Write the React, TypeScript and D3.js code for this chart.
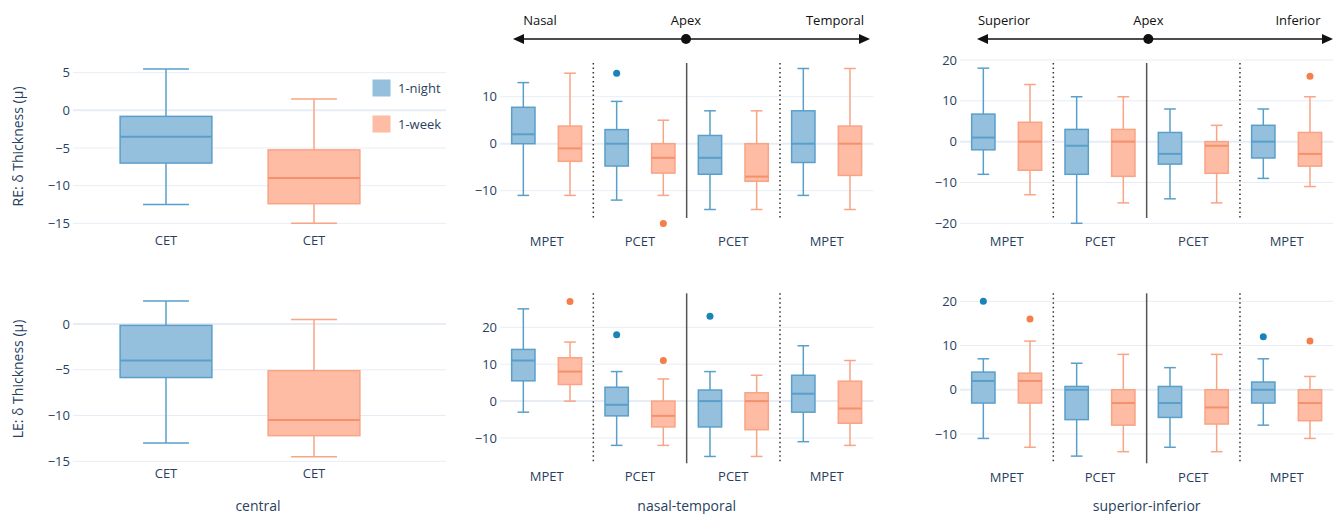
import React, { useEffect, useRef } from "react";
import * as d3 from "d3";

const W = 1335;
const H = 514;

// box stats: [lower whisker, q1, median, q3, upper whisker]
const centralReNight = [-12.5, -7, -3.5, -0.8, 5.5];
const centralReWeek = [-15, -12.4, -9, -5.25, 1.5];
const centralLeNight = [-13, -5.85, -4, -0.15, 2.5];
const centralLeWeek = [-14.5, -12.2, -10.5, -5.1, 0.5];

const zoneLabels = ["MPET", "PCET", "PCET", "MPET"];

const ntReNight = [[-11, 0, 2, 7.75, 13], [-12, -4.75, 0, 3, 9], [-14, -6.5, -3, 1.75, 7], [-11, -4, 0, 7, 16]];
const ntReWeek = [[-11, -3.75, -1, 3.75, 15], [-11, -6.25, -3, 0, 5], [-14, -8, -7, 0, 7], [-14, -6.75, 0, 3.75, 16]];
const ntReNightOut = [[], [15], [], []];
const ntReWeekOut = [[], [-17], [], []];

const ntLeNight = [[-3, 5.5, 11, 14, 25], [-12, -4, -1, 3.75, 8], [-15, -7, 0, 3, 8], [-11, -3, 2, 7, 15]];
const ntLeWeek = [[0, 4.5, 8, 11.75, 16], [-12, -7, -4, 0, 6], [-15, -7.75, 0, 2.25, 7], [-12, -6, -2, 5.4, 11]];
const ntLeNightOut = [[], [18], [23], []];
const ntLeWeekOut = [[27], [11], [], []];

const siReNight = [[-8, -2, 1, 6.75, 18], [-20, -8, -1, 3, 11], [-14, -5.5, -3, 2.25, 8], [-9, -4, 0, 4, 8]];
const siReWeek = [[-13, -7, 0, 4.75, 14], [-15, -8.5, 0, 3, 11], [-15, -7.75, -1, 0, 4], [-11, -6, -3, 2.25, 11]];
const siReNightOut = [[], [], [], []];
const siReWeekOut = [[], [], [], [16]];

const siLeNight = [[-11, -3, 2, 4, 7], [-15, -6.75, 0, 0.75, 6], [-13, -6.25, -3, 0.75, 5], [-8, -3, 0, 1.75, 7]];
const siLeWeek = [[-13, -3, 2, 3.75, 11], [-14, -8, -3, 0, 8], [-14, -7.75, -4, 0, 8], [-11, -7, -3, 0, 3]];
const siLeNightOut = [[20], [], [], [12]];
const siLeWeekOut = [[16], [], [], [11]];

const ticksCentralRe = [-15, -10, -5, 0, 5];
const ticksCentralLe = [-15, -10, -5, 0];
const ticksNtRe = [-10, 0, 10];
const ticksNtLe = [-10, 0, 10, 20];
const ticksSiRe = [-20, -10, 0, 10, 20];
const ticksSiLe = [-10, 0, 10, 20];

const seriesNames = ["1-night", "1-week"];

const night = { line: "#5a9fca", fill: "#94c0dd", dot: "#1a84b8" };
const week = { line: "#f8a485", fill: "#fdbca3", dot: "#f47f4a", median: "#f4916c" };
const textColor = "#2a3f5f";
const gridColor = "#e8edf5";
const font = "'Open Sans', 'DejaVu Sans', sans-serif";

function drawBox(g, cx, w, s, c, out, y) {
  const [lo, q1, med, q3, hi] = s;
  g.append("line").attr("x1", cx).attr("x2", cx).attr("y1", y(hi)).attr("y2", y(q3))
    .attr("stroke", c.line).attr("stroke-width", 1.5);
  g.append("line").attr("x1", cx).attr("x2", cx).attr("y1", y(q1)).attr("y2", y(lo))
    .attr("stroke", c.line).attr("stroke-width", 1.5);
  g.append("line").attr("x1", cx - w / 4).attr("x2", cx + w / 4).attr("y1", y(hi)).attr("y2", y(hi))
    .attr("stroke", c.line).attr("stroke-width", 1.5);
  g.append("line").attr("x1", cx - w / 4).attr("x2", cx + w / 4).attr("y1", y(lo)).attr("y2", y(lo))
    .attr("stroke", c.line).attr("stroke-width", 1.5);
  g.append("rect").attr("x", cx - w / 2).attr("y", y(q3)).attr("width", w).attr("height", y(q1) - y(q3))
    .attr("fill", c.fill).attr("stroke", c.line).attr("stroke-width", 1.5);
  g.append("line").attr("x1", cx - w / 2).attr("x2", cx + w / 2).attr("y1", y(med)).attr("y2", y(med))
    .attr("stroke", c.median || c.line).attr("stroke-width", 2);
  (out || []).forEach(v => {
    g.append("circle").attr("cx", cx).attr("cy", y(v)).attr("r", 3.5).attr("fill", c.dot);
  });
}

function drawGrid(g, x0, x1, ticks, y) {
  ticks.forEach(t => {
    g.append("line").attr("x1", x0).attr("x2", x1).attr("y1", y(t)).attr("y2", y(t))
      .attr("stroke", gridColor).attr("stroke-width", t === 0 ? 2 : 1);
    g.append("text").attr("x", x0 - 3).attr("y", y(t)).attr("dy", "0.35em")
      .attr("text-anchor", "end").attr("font-size", 13).attr("fill", textColor)
      .text(d3.format("d")(t));
  });
}

function drawZonePanel(g, x0, x1, y, ticks, nightStats, weekStats, nightOut, weekOut, divTop, divBottom, labelY) {
  drawGrid(g, x0, x1, ticks, y);
  const x = d3.scaleBand().domain(d3.range(zoneLabels.length)).range([x0, x1]);
  const bw = x.bandwidth();
  [1, 2, 3].forEach(i => {
    const l = g.append("line").attr("x1", x(i)).attr("x2", x(i))
      .attr("y1", divTop).attr("y2", divBottom).attr("stroke-width", 1.5);
    if (i === 2) l.attr("stroke", "#555");
    else l.attr("stroke", "#333").attr("stroke-dasharray", "1.5,3");
  });
  zoneLabels.forEach((lab, i) => {
    drawBox(g, x(i) + bw * 0.25, bw * 0.25, nightStats[i], night, nightOut[i], y);
    drawBox(g, x(i) + bw * 0.75, bw * 0.25, weekStats[i], week, weekOut[i], y);
    g.append("text").attr("x", x(i) + bw / 2).attr("y", labelY).attr("dy", "0.35em")
      .attr("text-anchor", "middle").attr("font-size", 13).attr("fill", textColor).text(lab);
  });
}

function drawCentralPanel(g, y, ticks, nightStats, weekStats, labelY) {
  drawGrid(g, 73, 446, ticks, y);
  const x = d3.scaleBand().domain(seriesNames).range([92, 388]);
  const bw = x.bandwidth();
  drawBox(g, x("1-night") + bw / 2, bw * 0.62, nightStats, night, [], y);
  drawBox(g, x("1-week") + bw / 2, bw * 0.62, weekStats, week, [], y);
  seriesNames.forEach(n => {
    g.append("text").attr("x", x(n) + bw / 2).attr("y", labelY).attr("dy", "0.35em")
      .attr("text-anchor", "middle").attr("font-size", 13).attr("fill", textColor).text("CET");
  });
}

function drawHeader(g, x0, x1, xc, labels) {
  const yA = 39;
  g.append("line").attr("x1", x0 + 8).attr("x2", x1 - 8).attr("y1", yA).attr("y2", yA)
    .attr("stroke", "#111").attr("stroke-width", 1.5);
  g.append("path").attr("d", `M${x0},${yA}L${x0 + 11},${yA - 5}L${x0 + 11},${yA + 5}Z`).attr("fill", "#111");
  g.append("path").attr("d", `M${x1},${yA}L${x1 - 11},${yA - 5}L${x1 - 11},${yA + 5}Z`).attr("fill", "#111");
  g.append("circle").attr("cx", xc).attr("cy", yA).attr("r", 5).attr("fill", "#111");
  const pos = [x0 + 27, xc, x1 - 35];
  labels.forEach((t, i) => {
    g.append("text").attr("x", pos[i]).attr("y", 20).attr("dy", "0.35em")
      .attr("text-anchor", "middle").attr("font-size", 13).attr("fill", "#111").text(t);
  });
}

function App() {
  const ref = useRef(null);

  useEffect(() => {
    const svg = d3.select(ref.current);
    svg.selectAll("*").remove();
    const g = svg.append("g").attr("font-family", font);

    // central
    const yCRe = d3.scaleLinear().domain([-15, 5]).range([223.3, 72.7]);
    const yCLe = d3.scaleLinear().domain([-15, 0]).range([461.3, 324]);
    drawCentralPanel(g, yCRe, ticksCentralRe, centralReNight, centralReWeek, 240);
    drawCentralPanel(g, yCLe, ticksCentralLe, centralLeNight, centralLeWeek, 473);

    // legend
    const leg = g.append("g");
    [night, week].forEach((c, i) => {
      const yy = 80 + i * 36;
      leg.append("rect").attr("x", 373).attr("y", yy).attr("width", 17).attr("height", 16)
        .attr("fill", c.fill).attr("stroke", c.fill).attr("stroke-width", 1);
      leg.append("text").attr("x", 398).attr("y", yy + 8).attr("dy", "0.35em")
        .attr("font-size", 13).attr("fill", textColor).text(seriesNames[i]);
    });

    // nasal-temporal
    const yNtRe = d3.scaleLinear().domain([-10, 10]).range([190.7, 96.7]);
    const yNtLe = d3.scaleLinear().domain([-10, 20]).range([438, 327.3]);
    drawZonePanel(g, 500, 873.3, yNtRe, ticksNtRe, ntReNight, ntReWeek, ntReNightOut, ntReWeekOut, 63, 218, 241.7);
    drawZonePanel(g, 500, 873.3, yNtLe, ticksNtLe, ntLeNight, ntLeWeek, ntLeNightOut, ntLeWeekOut, 293.3, 463.3, 476.7);

    // superior-inferior
    const ySiRe = d3.scaleLinear().domain([-20, 20]).range([223.3, 60]);
    const ySiLe = d3.scaleLinear().domain([-10, 20]).range([434, 301.3]);
    drawZonePanel(g, 960, 1333.3, ySiRe, ticksSiRe, siReNight, siReWeek, siReNightOut, siReWeekOut, 63, 218, 241.7);
    drawZonePanel(g, 960, 1333.3, ySiLe, ticksSiLe, siLeNight, siLeWeek, siLeNightOut, siLeWeekOut, 293.3, 463.3, 477.3);

    drawHeader(g, 513, 870, 686, ["Nasal", "Apex", "Temporal"]);
    drawHeader(g, 977, 1333, 1148.3, ["Superior", "Apex", "Inferior"]);

    // axis titles
    g.append("text").attr("transform", "translate(18,146.5) rotate(-90)").attr("dy", "0.35em")
      .attr("text-anchor", "middle").attr("font-size", 14).attr("fill", textColor).text("RE: δ Thickness (μ)");
    g.append("text").attr("transform", "translate(18,379) rotate(-90)").attr("dy", "0.35em")
      .attr("text-anchor", "middle").attr("font-size", 14).attr("fill", textColor).text("LE: δ Thickness (μ)");
    [["central", 258], ["nasal-temporal", 686.7], ["superior-inferior", 1146.7]].forEach(([t, xx]) => {
      g.append("text").attr("x", xx).attr("y", 506.5).attr("dy", "0.35em")
        .attr("text-anchor", "middle").attr("font-size", 14).attr("fill", textColor).text(t);
    });
  }, []);

  return (
    <svg ref={ref} width={W} height={H}
      style={{ position: "absolute", left: 0, top: 0, background: "#fff" }} />
  );
}

export default App;
